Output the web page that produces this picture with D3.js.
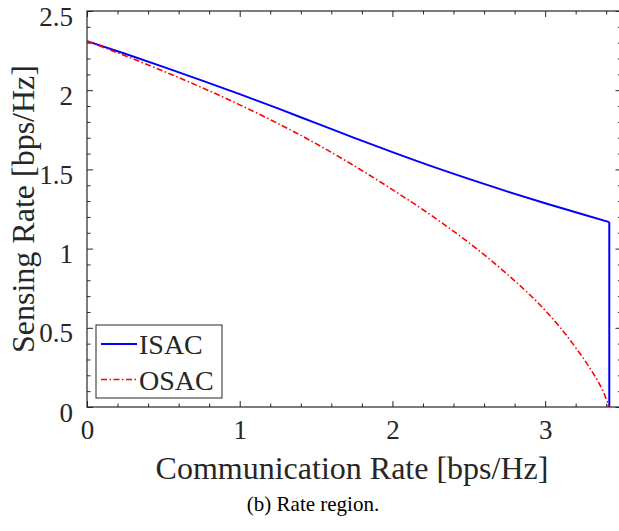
<!DOCTYPE html>
<html>
<head>
<meta charset="utf-8">
<script src="https://cdn.jsdelivr.net/npm/d3@7"></script>
<style>
  html, body { margin: 0; padding: 0; background: #fff; }
  svg { display: block; }
  svg text { font-family: "Times New Roman", "Liberation Serif", Times, "DejaVu Serif", serif !important; fill: #262626; }
</style>
</head>
<body>
<svg id="chart" width="619" height="531"></svg>
<script>
// ---- data ----
const isacX = [0, 0.25, 0.5, 0.75, 1.0, 1.25, 1.5, 1.75, 2.0, 2.25, 2.5, 2.75, 3.0, 3.25, 3.42];
const isacY = [2.31, 2.23, 2.147, 2.062, 1.975, 1.885, 1.792, 1.699, 1.609, 1.522, 1.44, 1.361, 1.286, 1.215, 1.167];
const isacDropX = [3.42, 3.42];
const isacDropY = [1.167, 0];
const osacX = [0, 0.25, 0.5, 0.75, 1.0, 1.25, 1.5, 1.75, 2.0, 2.25, 2.5, 2.75, 3.0, 3.1, 3.2, 3.3, 3.35, 3.38, 3.40, 3.41, 3.415];
const osacY = [2.31, 2.2175, 2.12, 2.0175, 1.9075, 1.79, 1.6625, 1.5225, 1.3725, 1.2125, 1.0375, 0.84, 0.61, 0.50, 0.375, 0.235, 0.155, 0.098, 0.05, 0.024, 0];
const xTicks = [0, 1, 2, 3];
const yTicks = [0, 0.5, 1, 1.5, 2, 2.5];
const xLabel = "Communication Rate [bps/Hz]";
const yLabel = "Sensing Rate [bps/Hz]";
const caption = "(b) Rate region.";
const seriesNames = ["ISAC", "OSAC"];

// ---- layout ----
const svg = d3.select("#chart");
const L = 87, R = 621.5, T = 11, B = 407;
const x = d3.scaleLinear().domain([0, 3.5]).range([L, R]);
const y = d3.scaleLinear().domain([0, 2.5]).range([B, T]);
const axisColor = "#262626";

const xMinor = d3.range(0, 3.5001, 0.2).filter(v => !xTicks.some(t => Math.abs(t - v) < 1e-6));
const yMinor = d3.range(0, 2.5001, 0.1).filter(v => !yTicks.some(t => Math.abs(t - v) < 1e-6));

function tickAxis(axisGen, transform) {
  const g = svg.append("g").attr("transform", transform).call(axisGen);
  g.attr("font-family", null).attr("font-size", null);
  g.select(".domain").remove();
  g.selectAll("line").attr("stroke", axisColor).attr("stroke-width", 1);
  return g;
}
// bottom
const gxb = tickAxis(d3.axisBottom(x).tickValues(xTicks).tickSize(-6).tickPadding(13).tickFormat(d3.format("d")), `translate(0,${B})`);
gxb.selectAll("text").attr("font-size", 27).attr("fill", axisColor).attr("dy", "0.71em");
tickAxis(d3.axisBottom(x).tickValues(xMinor).tickSize(-3.5).tickFormat(""), `translate(0,${B})`);
// top
tickAxis(d3.axisTop(x).tickValues(xTicks).tickSize(-6).tickFormat(""), `translate(0,${T})`);
tickAxis(d3.axisTop(x).tickValues(xMinor).tickSize(-3.5).tickFormat(""), `translate(0,${T})`);
// left
const gyl = tickAxis(d3.axisLeft(y).tickValues(yTicks).tickSize(-6).tickPadding(14).tickFormat(d => String(d)), `translate(${L},0)`);
gyl.selectAll("text").attr("font-size", 27).attr("fill", axisColor).attr("dy", "0.52em");
tickAxis(d3.axisLeft(y).tickValues(yMinor).tickSize(-3.5).tickFormat(""), `translate(${L},0)`);
// right
tickAxis(d3.axisRight(y).tickValues(yTicks).tickSize(-6).tickFormat(""), `translate(${R},0)`);
tickAxis(d3.axisRight(y).tickValues(yMinor).tickSize(-3.5).tickFormat(""), `translate(${R},0)`);

// box
svg.append("rect").attr("x", L).attr("y", T).attr("width", R - L).attr("height", B - T)
  .attr("fill", "none").attr("stroke", axisColor).attr("stroke-width", 1.2);

// lines
const lineSmooth = d3.line().x(d => x(d[0])).y(d => y(d[1])).curve(d3.curveMonotoneX);
const lineStraight = d3.line().x(d => x(d[0])).y(d => y(d[1]));
const isac = isacX.map((v, i) => [v, isacY[i]]);
const isacDrop = isacDropX.map((v, i) => [v, isacDropY[i]]);
const osac = osacX.map((v, i) => [v, osacY[i]]);
const dashOSAC = "6,2.5,1.5,2.5";
svg.append("path").datum(isac).attr("d", lineSmooth)
  .attr("fill", "none").attr("stroke", "#0000ff").attr("stroke-width", 2);
svg.append("path").datum(isacDrop).attr("d", lineStraight)
  .attr("fill", "none").attr("stroke", "#0000ff").attr("stroke-width", 2);
svg.append("path").datum(osac).attr("d", lineSmooth)
  .attr("fill", "none").attr("stroke", "#ff0000").attr("stroke-width", 1.6)
  .attr("stroke-dasharray", dashOSAC);

// legend
const lg = svg.append("g");
lg.append("rect").attr("x", 96).attr("y", 325).attr("width", 126).attr("height", 73)
  .attr("fill", "#fff").attr("stroke", axisColor).attr("stroke-width", 1);
const lgStyles = [{c: "#0000ff", w: 2, dash: null}, {c: "#ff0000", w: 1.6, dash: dashOSAC}];
seriesNames.forEach((n, i) => {
  const yy = 344 + i * 35.5;
  const l = lg.append("line").attr("x1", 101).attr("x2", 137).attr("y1", yy).attr("y2", yy)
    .attr("stroke", lgStyles[i].c).attr("stroke-width", lgStyles[i].w);
  if (lgStyles[i].dash) l.attr("stroke-dasharray", lgStyles[i].dash);
  lg.append("text").attr("x", 139).attr("y", yy + 10).attr("font-size", 28).text(n);
});

// axis labels
svg.append("text").attr("x", 352).attr("y", 479).attr("text-anchor", "middle")
  .attr("font-size", 32).text(xLabel);
svg.append("text").attr("transform", `translate(34,209) rotate(-90)`).attr("text-anchor", "middle")
  .attr("font-size", 32).text(yLabel);
svg.append("text").attr("x", 313).attr("y", 511).attr("text-anchor", "middle")
  .attr("font-size", 21).style("fill", "#000").text(caption);
</script>
</body>
</html>
